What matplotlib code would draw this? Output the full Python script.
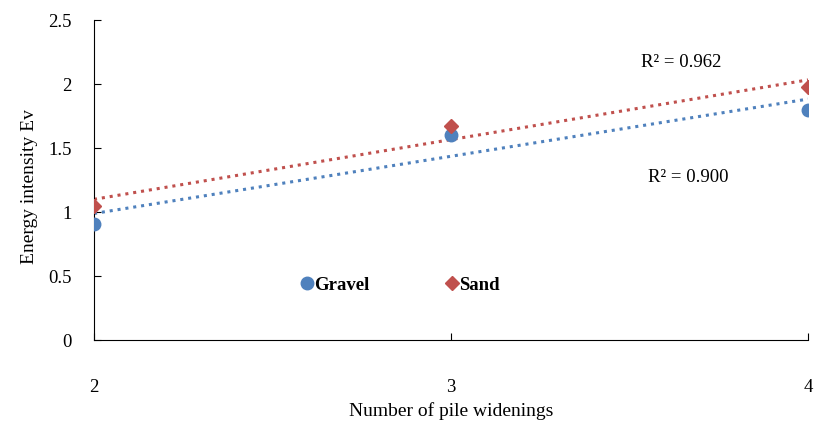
import numpy as np
import matplotlib
matplotlib.use("Agg")
import matplotlib.pyplot as plt

plt.rcParams['font.family'] = ['Liberation Serif', 'DejaVu Serif']

widenings = [2, 3, 4]
gravel = [0.906, 1.60, 1.80]
sand = [1.047, 1.67, 1.98]
r2_labels = ["R\u00b2 = 0.962", "R\u00b2 = 0.900"]
x_ticks = [2, 3, 4]
y_ticks = [0, 0.5, 1, 1.5, 2, 2.5]

blue = "#4F81BD"
red = "#C0504D"

W, H = 814, 423
fig = plt.figure(figsize=(W / 100, H / 100), dpi=100)
left, right, top, bottom = 94, 808, 20, 340
ax = fig.add_axes([left / W, 1 - bottom / H, (right - left) / W, (bottom - top) / H])

x = np.array(widenings, dtype=float)
for ys, col in ((gravel, blue), (sand, red)):
    k, b = np.polyfit(x, ys, 1)
    xx = np.array([2, 4])
    ax.plot(xx, k * xx + b, linestyle=(0, (1, 1.6)), color=col, lw=2.2, zorder=2)

ax.plot(widenings, gravel, 'o', color=blue, ms=9, label="Gravel", zorder=3, linestyle='none')
ax.plot(widenings, sand, 'D', color=red, ms=7.5, label="Sand", zorder=3, linestyle='none')

ax.set_xlim(2, 4)
ax.set_ylim(0, 2.5)
ax.set_xticks(x_ticks)
ax.set_yticks(y_ticks)
ax.set_yticklabels(["0", "0.5", "1", "1.5", "2", "2.5"])
ax.tick_params(axis='x', direction='in', length=5, pad=28, labelsize=13.5)
ax.tick_params(axis='y', direction='in', length=5, pad=16, labelsize=13.5)
for s in ("top", "right"):
    ax.spines[s].set_visible(False)

ax.set_xlabel("Number of pile widenings", fontsize=14)
ax.xaxis.set_label_coords(0.5, -0.193)
ax.set_ylabel("Energy intensity Ev", fontsize=14)
ax.yaxis.set_label_coords(-0.078, 0.48)

ax.text(3.532, 2.17, r2_labels[0], fontsize=13.5, ha='left', va='center')
ax.text(3.552, 1.266, r2_labels[1], fontsize=13.5, ha='left', va='center')

leg = ax.legend(loc='center left', bbox_to_anchor=(0.29, 0.172), ncol=2, frameon=False,
                prop={'size': 13.5, 'weight': 'bold'}, handlelength=0.6, handletextpad=0.1,
                columnspacing=4.1, borderpad=0, borderaxespad=0, markerscale=1.0)

fig.savefig("out.png", dpi=100)
